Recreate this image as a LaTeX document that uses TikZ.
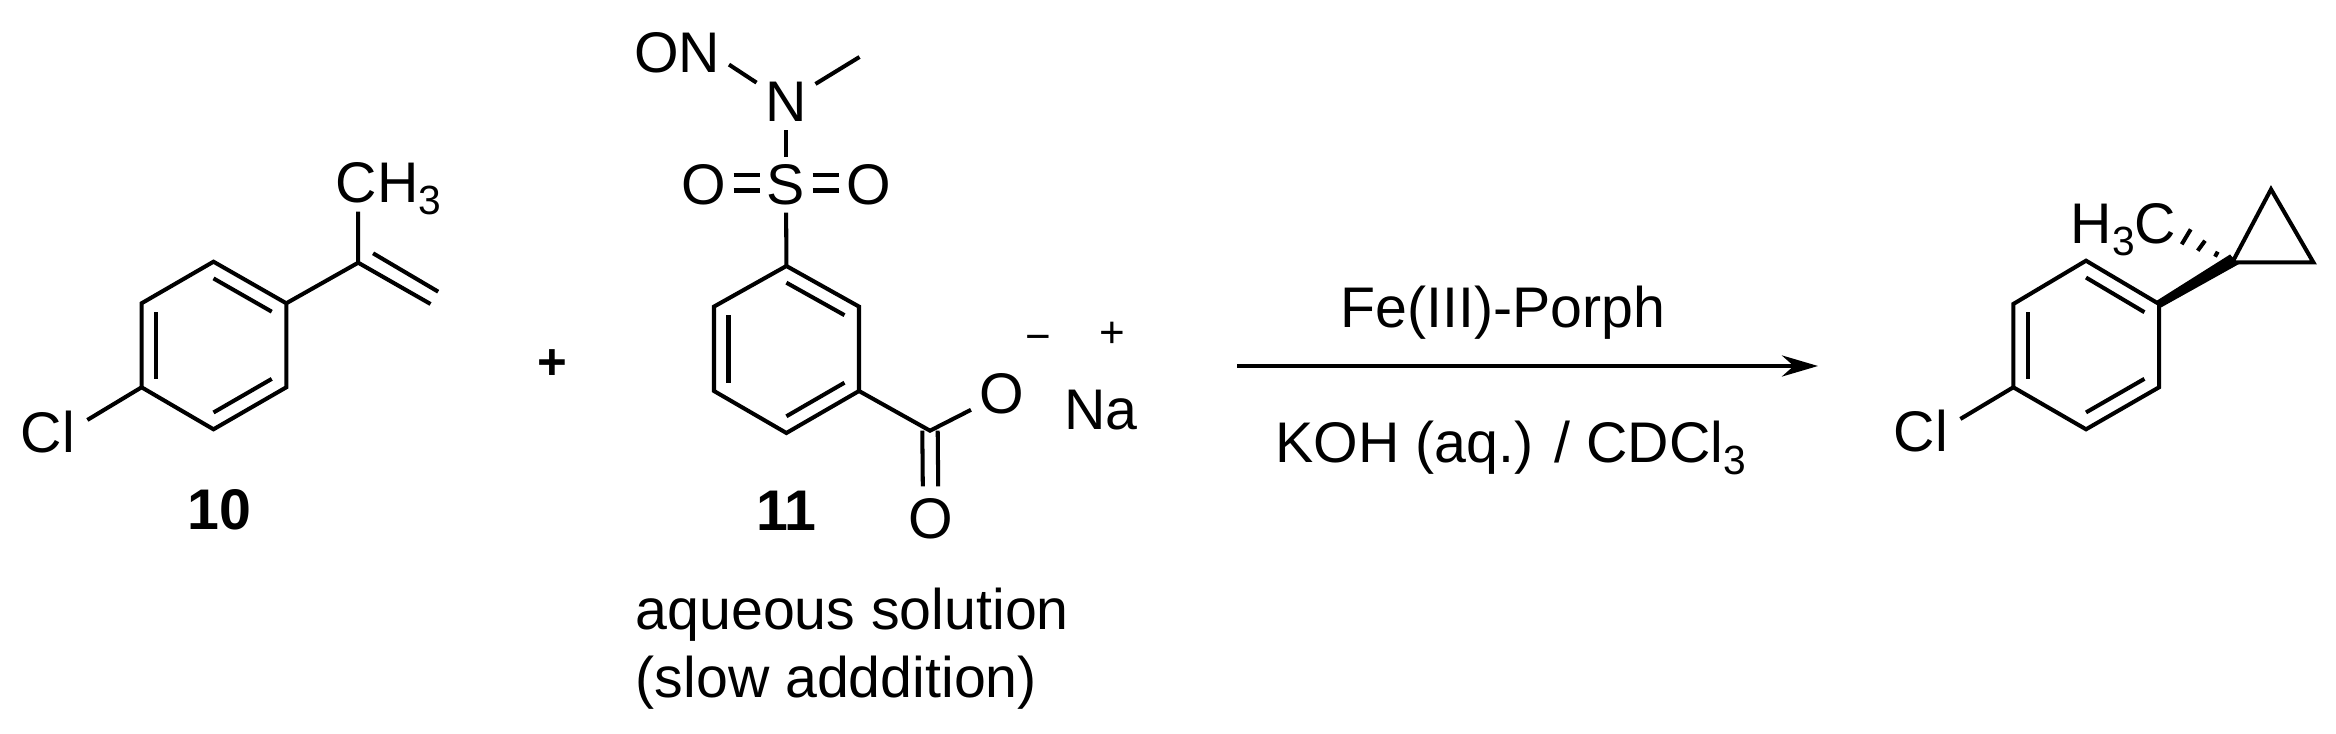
\documentclass[tikz,border=0pt]{standalone}
\usepackage{fontspec}
\setmainfont{Liberation Sans}
\usetikzlibrary{arrows.meta, calc}
\newcommand{\lowsub}[1]{\raisebox{-0.21em}{\fontsize{11.6pt}{11.6pt}\selectfont #1}}
\tikzset{
  bond/.style={line width=1.15pt},
  label/.style={inner sep=0pt, font=\fontsize{16.3pt}{19.3pt}\selectfont},
  atom/.style={label, inner sep=2.3pt},
  number/.style={label, font=\fontsize{16.3pt}{19.3pt}\selectfont\bfseries},
  charge/.style={inner sep=0pt, font=\fontsize{12.5pt}{14pt}\selectfont},
}
\begin{document}
\begin{tikzpicture}[x=1cm,y=-1cm]
    \useasboundingbox (0,0) rectangle (23.36,7.34);
    % Ring of 10
    \coordinate (a0) at (2.135,3.453);
    \coordinate (a1) at (2.135,2.617);
    \coordinate (a2) at (2.863,3.033);
    \coordinate (a3) at (2.863,3.873);
    \coordinate (a4) at (2.135,4.293);
    \coordinate (a5) at (1.416,3.873);
    \coordinate (a6) at (1.416,3.033);
    \draw[bond] (a1) -- (a2) -- (a3) -- (a4) -- (a5) -- (a6) -- cycle;
    \foreach \p/\q in {1/2,3/4,5/6}
        \draw[bond] ($(a\p)!0.2!(a0)$) -- ($(a\q)!0.2!(a0)$);
    % Substituents of 10
    \node[atom, inner sep=3.3pt] (cl10) at (0.48,4.32) {Cl};
    \draw[bond] (a5) -- (cl10.17);
    \coordinate (ca) at (3.582,2.627);
    \coordinate (me10) at (3.582,2.117);
    \coordinate (ch2a) at (4.305,3.04);
    \coordinate (ch2b) at (3.731,2.533);
    \coordinate (ch2c) at (4.382,2.917);
    \draw[bond] (a2) -- (ca) -- (me10);
    \draw[bond] (ca) -- (ch2a);
    \draw[bond] (ch2b) -- (ch2c);
    \node[label, anchor=base west] (ch3) at (3.35,2.027) {CH\lowsub{3}};
    \node[number] (num10) at (2.195,5.10) {10};
    \node[number, font=\fontsize{14.5pt}{16pt}\selectfont\bfseries] (plus) at (5.52,3.65) {+};
    % Ring of 11
    \coordinate (b0) at (7.864,3.495);
    \coordinate (b1) at (7.864,2.66);
    \coordinate (b2) at (8.59,3.066);
    \coordinate (b3) at (8.59,3.91);
    \coordinate (b4) at (7.864,4.33);
    \coordinate (b5) at (7.14,3.91);
    \coordinate (b6) at (7.14,3.066);
    \draw[bond] (b1) -- (b2) -- (b3) -- (b4) -- (b5) -- (b6) -- cycle;
    \foreach \p/\q in {1/2,3/4,5/6}
        \draw[bond] ($(b\p)!0.2!(b0)$) -- ($(b\q)!0.2!(b0)$);
    % Sulfonyl and nitroso groups
    \node[atom, inner sep=1.9pt] (s) at (7.86,1.85) {S};
    \node[atom, inner sep=1.9pt] (o1) at (7.04,1.85) {O};
    \node[atom, inner sep=1.9pt] (o2) at (8.69,1.85) {O};
    \node[atom] (n) at (7.86,1.02) {N};
    \node[label] (on) at (6.77,0.527) {ON};
    \coordinate (onend) at (7.29,0.646);
    \coordinate (me11) at (8.595,0.57);
    \draw[bond] (s) -- (b1);
    \draw[bond] (n) -- (s);
    \draw[bond] (onend) -- (n);
    \draw[bond] (n) -- (me11);
    \foreach \s in {0.104,-0.055} {
        \draw[bond] ([yshift=\s cm]o1.east) -- ([yshift=\s cm]s.west);
        \draw[bond] ([yshift=\s cm]s.east) -- ([yshift=\s cm]o2.west);
    }
    % Carboxylate
    \coordinate (c7) at (9.30,4.307);
    \node[atom] (o3) at (10.02,3.94) {O};
    \node[atom, inner sep=3.3pt] (o4) at (9.305,5.19) {O};
    \draw[bond] (b3) -- (c7) -- (o3);
    \foreach \s in {-0.077,0.077}
        \draw[bond] ([xshift=\s cm]c7) -- ([xshift=\s cm]o4.north);
    \node[charge] (minus) at (10.38,3.43) {−};
    \node[charge] (plusna) at (11.12,3.35) {+};
    \node[label] (na) at (11.01,4.10) {Na};
    \node[number] (num11) at (7.865,5.11) {11};
    \node[label, anchor=base west] (aq1) at (6.35,6.297) {aqueous solution};
    \node[label, anchor=base west] (aq2) at (6.35,6.976) {(slow adddition)};
    % Arrow
    \coordinate (arr1) at (12.37,3.66);
    \coordinate (arr2) at (18.18,3.66);
    \draw[-{Stealth[length=0.36cm,width=0.21cm]}, line width=1.25pt] (arr1) -- (arr2);
    \node[label, anchor=base west] (fe) at (13.40,3.273) {Fe(III)-Porph};
    \node[label, anchor=base west] (koh) at (12.75,4.627) {KOH (aq.) / CDCl\lowsub{3}};
    % Ring of the product
    \coordinate (c0) at (20.86,3.45);
    \coordinate (c1) at (20.86,2.607);
    \coordinate (c2) at (21.59,3.04);
    \coordinate (c3) at (21.59,3.873);
    \coordinate (c4) at (20.86,4.293);
    \coordinate (c5) at (20.133,3.873);
    \coordinate (c6) at (20.133,3.04);
    \draw[bond] (c1) -- (c2) -- (c3) -- (c4) -- (c5) -- (c6) -- cycle;
    \foreach \p/\q in {1/2,3/4,5/6}
        \draw[bond] ($(c\p)!0.2!(c0)$) -- ($(c\q)!0.2!(c0)$);
    \node[atom, inner sep=3.3pt] (cl12) at (19.21,4.31) {Cl};
    \draw[bond] (c5) -- (cl12.17);
    % Cyclopropane and its methyl
    \coordinate (d1) at (22.323,2.623);
    \coordinate (d2) at (22.71,1.893);
    \coordinate (d3) at (23.133,2.623);
    \draw[bond] (d1) -- (d2) -- (d3) -- cycle;
    \coordinate (wedgea) at (22.30,2.545);
    \coordinate (wedgeb) at (22.39,2.64);
    \fill ([shift={(-0.02,-0.035)}]c2) -- (wedgea) -- (wedgeb) -- ([shift={(0.02,0.035)}]c2) -- cycle;
    \foreach \xa/\ya/\xb/\yb in {22.177/2.517/22.15/2.567, 22.05/2.407/21.977/2.507, 21.907/2.293/21.817/2.443}
        \draw[bond] (\xa,\ya) -- (\xb,\yb);
    \node[label, anchor=base west] (h3c) at (20.70,2.433) {H\lowsub{3}C};
\end{tikzpicture}
\end{document}
